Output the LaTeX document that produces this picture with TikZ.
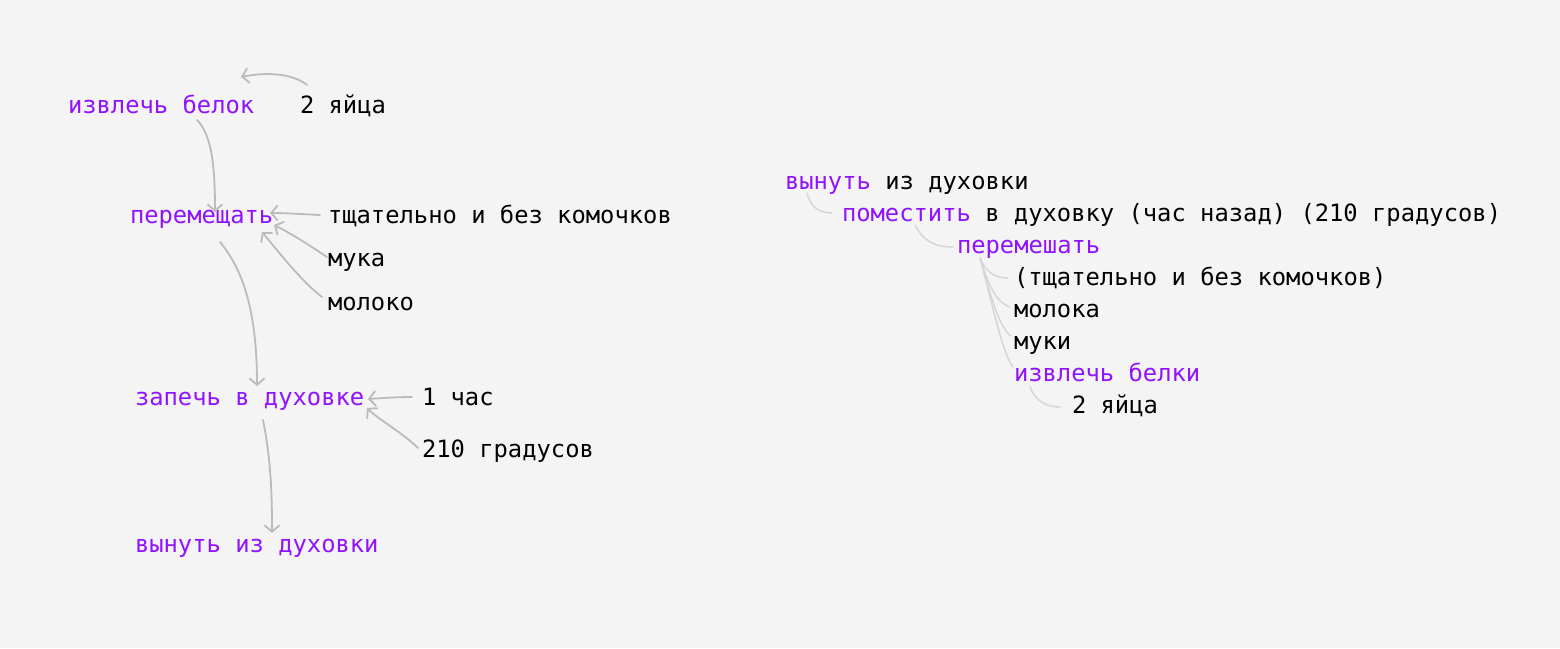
\documentclass[tikz,border=0pt]{standalone}
\usepackage{fontspec}
\setmonofont{DejaVu Sans Mono}
\usetikzlibrary{arrows.meta}
\definecolor{bg}{HTML}{F4F4F4}
\definecolor{vio}{HTML}{9012FE}
\definecolor{arrgray}{HTML}{BBBBBB}
\definecolor{linegray}{HTML}{D6D6D6}
\tikzset{
  txt/.style={anchor=base west, inner sep=0pt, outer sep=0pt, font=\ttfamily\fontsize{23.8}{28}\selectfont, text=black},
  act/.style={txt, text=vio},
  arr/.style={draw=arrgray, line width=1.8pt, line cap=round, -{Straight Barb[length=6.5pt,width=15pt,line width=1.8pt]}},
  tree/.style={draw=linegray, line width=1.5pt, line cap=round},
}
\begin{document}
\begin{tikzpicture}[x=1pt,y=-1pt]
\fill[bg] (0,0) rectangle (1560,648);
\useasboundingbox (0,0) rectangle (1560,648);
% left diagram
\node[act] (belok) at (68,113) {извлечь белок};
\node[txt] (eggs) at (300,113) {2 яйца};
\node[act] (mix) at (130,223) {перемещать};
\node[txt] (care) at (328,223) {тщательно и без комочков};
\node[txt] (flour) at (328,266) {мука};
\node[txt] (milk) at (328,310) {молоко};
\node[act] (bake) at (135,405) {запечь в духовке};
\node[txt] (hour) at (422,405) {1 час};
\node[txt] (deg) at (422,457) {210 градусов};
\node[act] (out) at (135,552) {вынуть из духовки};
\draw[arr] ([shift={(7,-28)}]eggs.base west) .. controls +(-15,-12) and +(25,-5) .. ([shift={(173,-36)}]belok.base west);
\draw[arr] ([shift={(129,7)}]belok.base west) .. controls +(15,15) and +(0,-45) .. ([shift={(85,-11)}]mix.base west);
\draw[arr] ([shift={(-8,-8)}]care.base west) .. controls +(-20,-1) and +(15,0) .. ([shift={(140,-10)}]mix.base west);
\draw[arr] ([shift={(-1,-9)}]flour.base west) .. controls +(-15,-10) and +(20,10) .. ([shift={(144,2)}]mix.base west);
\draw[arr] ([shift={(-6,-13)}]milk.base west) .. controls +(-20,-15) and +(15,18) .. ([shift={(132,9)}]mix.base west);
\draw[arr] ([shift={(90,19)}]mix.base west) .. controls +(25,30) and +(0,-70) .. ([shift={(122,-19)}]bake.base west);
\draw[arr] ([shift={(-10,-8)}]hour.base west) .. controls +(-15,0) and +(15,-1) .. ([shift={(233,-6)}]bake.base west);
\draw[arr] ([shift={(-4,-9)}]deg.base west) .. controls +(-15,-15) and +(12,12) .. ([shift={(232,3)}]bake.base west);
\draw[arr] ([shift={(128,15)}]bake.base west) .. controls +(8,40) and +(0,-40) .. ([shift={(137,-19)}]out.base west);
% right tree
\node[txt] (rv) at (785,189) {\textcolor{vio}{вынуть} из духовки};
\node[txt] (rp) at (842,221) {\textcolor{vio}{поместить} в духовку (час назад) (210 градусов)};
\node[act] (rm) at (957,253) {перемешать};
\node[txt] (rt) at (1014,285) {(тщательно и без комочков)};
\node[txt] (rmol) at (1014,317) {молока};
\node[txt] (rmuk) at (1014,349) {муки};
\node[act] (rizv) at (1014,381) {извлечь белки};
\node[txt] (regg) at (1072,413) {2 яйца};
\draw[tree] ([shift={(22,4)}]rv.base west) .. controls +(3,12) and +(-15,0) .. ([shift={(-10,-8)}]rp.base west);
\draw[tree] ([shift={(73,4)}]rp.base west) .. controls +(8,15) and +(-20,0) .. ([shift={(-4,-6)}]rm.base west);
\draw[tree] ([shift={(23,5)}]rm.base west) .. controls +(5,12) and +(-15,0) .. ([shift={(-6,-7)}]rt.base west);
\draw[tree] ([shift={(23,5)}]rm.base west) .. controls +(8,25) and +(-15,-5) .. ([shift={(-4,-10)}]rmol.base west);
\draw[tree] ([shift={(23,5)}]rm.base west) .. controls +(10,35) and +(-12,-8) .. ([shift={(-3,-13)}]rmuk.base west);
\draw[tree] ([shift={(23,5)}]rm.base west) .. controls +(12,45) and +(-10,-12) .. ([shift={(-1,-14)}]rizv.base west);
\draw[tree] ([shift={(16,6)}]rizv.base west) .. controls +(5,13) and +(-15,0) .. ([shift={(-12,-6)}]regg.base west);
\end{tikzpicture}
\end{document}
